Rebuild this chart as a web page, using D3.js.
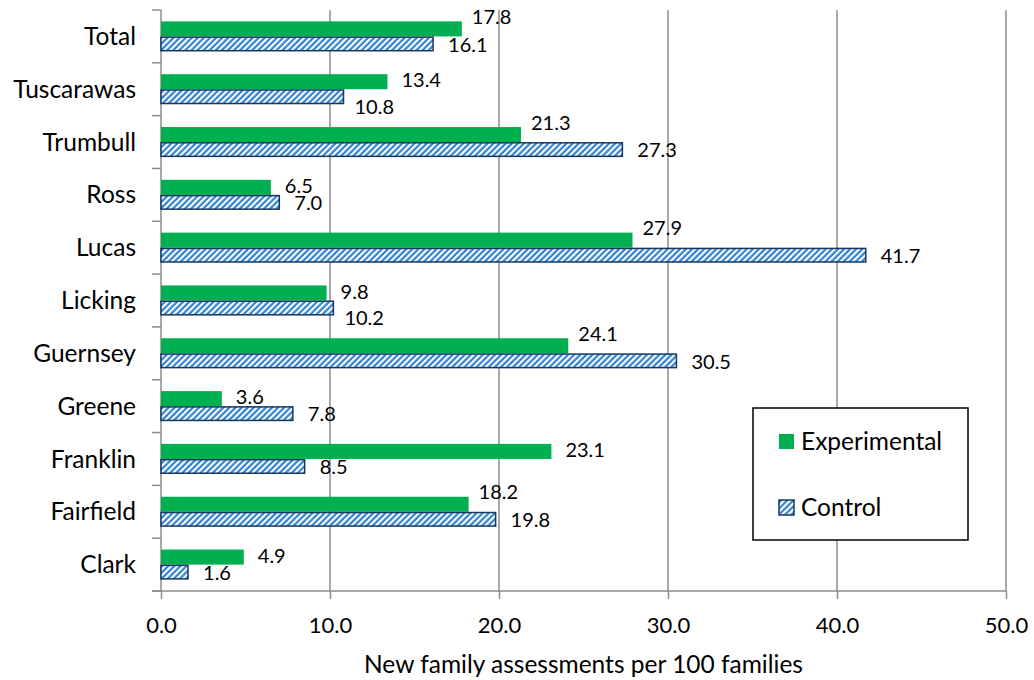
<!DOCTYPE html>
<html>
<head>
<meta charset="utf-8">
<script src="https://cdn.jsdelivr.net/npm/d3@7"></script>
<style>
  html, body { margin: 0; padding: 0; background: #fff; }
  svg text { font-family: Lato, "Open Sans", sans-serif; fill: #000; }
</style>
</head>
<body>
<svg id="chart" width="1034" height="680"></svg>
<script>
// ---- data ----
const categories = ["Total", "Tuscarawas", "Trumbull", "Ross", "Lucas", "Licking",
                    "Guernsey", "Greene", "Franklin", "Fairfield", "Clark"];
const experimental = [17.8, 13.4, 21.3, 6.5, 27.9, 9.8, 24.1, 3.6, 23.1, 18.2, 4.9];
const control      = [16.1, 10.8, 27.3, 7.0, 41.7, 10.2, 30.5, 7.8, 8.5, 19.8, 1.6];
const seriesNames  = ["Experimental", "Control"];
const xTicks       = [0, 10, 20, 30, 40, 50];
const xTitle       = "New family assessments per 100 families";
// label placement (semantic): which labels were nudged off their bar
const expLabelPlace = ["above", "mid", "above", "mid", "above", "mid", "above", "mid", "mid", "above", "mid"];
const ctlLabelPlace = ["mid", "below", "mid", "mid", "mid", "below", "mid", "mid", "mid", "mid", "mid"];

// ---- layout ----
const svg = d3.select("#chart");
const pL = 161, pR = 1006, pT = 10, pB = 591;
const gridColor = "#8c8c8c";
const catFont = 24.5, tickFont = 22, valFont = 20;

const x = d3.scaleLinear().domain([0, 50]).range([pL, pR]);
const y = d3.scaleBand().domain(categories).range([pT, pB])
  .paddingInner(0.43).paddingOuter(0.215);
const ys = d3.scaleBand().domain(seriesNames).range([0, y.bandwidth()]);

const defs = svg.append("defs");
const pat = defs.append("pattern").attr("id", "hatch")
  .attr("patternUnits", "userSpaceOnUse").attr("width", 4.3).attr("height", 10)
  .attr("patternTransform", "rotate(45)");
pat.append("rect").attr("width", 4.3).attr("height", 10).attr("fill", "#2f83d2");
pat.append("rect").attr("width", 2.1).attr("height", 10).attr("fill", "#ffffff");

// gridlines
svg.append("g").selectAll("line").data(xTicks.slice(1)).join("line")
  .attr("x1", d => x(d)).attr("x2", d => x(d))
  .attr("y1", pT).attr("y2", pB)
  .attr("stroke", gridColor).attr("stroke-width", 1.5);

// x axis
const xAxis = d3.axisBottom(x).tickValues(xTicks).tickFormat(d3.format(".1f"))
  .tickSize(8).tickPadding(18);
const gx = svg.append("g").attr("transform", `translate(0,${pB})`).call(xAxis);
gx.select(".domain").remove();
gx.selectAll(".tick line").attr("stroke", gridColor).attr("stroke-width", 1.5);
gx.selectAll(".tick text").attr("font-size", tickFont).attr("font-family", "Lato").attr("fill", "#000");
svg.append("line").attr("x1", pL - 9).attr("x2", pR).attr("y1", pB).attr("y2", pB)
  .attr("stroke", gridColor).attr("stroke-width", 1.5);

// y axis
const step = y.step();
const off = (step - y.bandwidth()) / 2;
const bounds = categories.map(c => y(c) - off).concat([y(categories[categories.length - 1]) - off + step]);
svg.append("line").attr("x1", pL).attr("x2", pL).attr("y1", pT).attr("y2", pB)
  .attr("stroke", gridColor).attr("stroke-width", 1.5);
svg.append("g").selectAll("line").data(bounds).join("line")
  .attr("x1", pL - 9).attr("x2", pL).attr("y1", d => d).attr("y2", d => d)
  .attr("stroke", gridColor).attr("stroke-width", 1.5);
svg.append("g").selectAll("text").data(categories).join("text")
  .attr("x", 136).attr("y", c => y(c) + y.bandwidth() / 2)
  .attr("dy", "0.35em").attr("text-anchor", "end").attr("font-size", catFont)
  .text(c => c);

// bars
const rows = categories.map((c, i) => ({ c, i, exp: experimental[i], ctl: control[i] }));
const g = svg.append("g");
g.selectAll("rect.exp").data(rows).join("rect").attr("class", "exp")
  .attr("x", x(0)).attr("y", d => y(d.c) + ys("Experimental"))
  .attr("width", d => x(d.exp) - x(0)).attr("height", ys.bandwidth())
  .attr("fill", "#00b050");
g.selectAll("rect.ctl").data(rows).join("rect").attr("class", "ctl")
  .attr("x", x(0)).attr("y", d => y(d.c) + ys("Control") + 0.75)
  .attr("width", d => x(d.ctl) - x(0)).attr("height", ys.bandwidth() - 1.5)
  .attr("fill", "url(#hatch)").attr("stroke", "#17375e").attr("stroke-width", 1.5);

// value labels
const fmt = d3.format(".1f");
g.selectAll("text.lexp").data(rows).join("text").attr("class", "lexp")
  .attr("x", d => x(d.exp) + (expLabelPlace[d.i] === "above" ? 10 : 14))
  .attr("y", d => y(d.c) + ys("Experimental") + ys.bandwidth() / 2 + (expLabelPlace[d.i] === "above" ? -12 : -1.5))
  .attr("dy", "0.36em").attr("font-size", valFont).text(d => fmt(d.exp));
g.selectAll("text.lctl").data(rows).join("text").attr("class", "lctl")
  .attr("x", d => x(d.ctl) + (ctlLabelPlace[d.i] === "below" ? 11 : 15))
  .attr("y", d => y(d.c) + ys("Control") + ys.bandwidth() / 2 + (ctlLabelPlace[d.i] === "below" ? 10 : 0.5))
  .attr("dy", "0.36em").attr("font-size", valFont).text(d => fmt(d.ctl));

// x title
svg.append("text").attr("x", (pL + pR) / 2).attr("y", 664).attr("dy", "0.35em")
  .attr("text-anchor", "middle").attr("font-size", catFont).text(xTitle);

// legend
const lg = svg.append("g");
lg.append("rect").attr("x", 753).attr("y", 408).attr("width", 215).attr("height", 132)
  .attr("fill", "#fff").attr("stroke", "#000").attr("stroke-width", 1.5);
const legendFill = { Experimental: "#00b050", Control: "url(#hatch)" };
seriesNames.forEach((s, i) => {
  const cy = 441.5 + i * 66;
  lg.append("rect").attr("x", 779).attr("y", cy - 7.5).attr("width", 15).attr("height", 15)
    .attr("fill", legendFill[s])
    .attr("stroke", s === "Control" ? "#17375e" : "none").attr("stroke-width", 1.5);
  lg.append("text").attr("x", 801).attr("y", cy).attr("dy", "0.35em")
    .attr("font-size", catFont).text(s);
});
</script>
</body>
</html>
